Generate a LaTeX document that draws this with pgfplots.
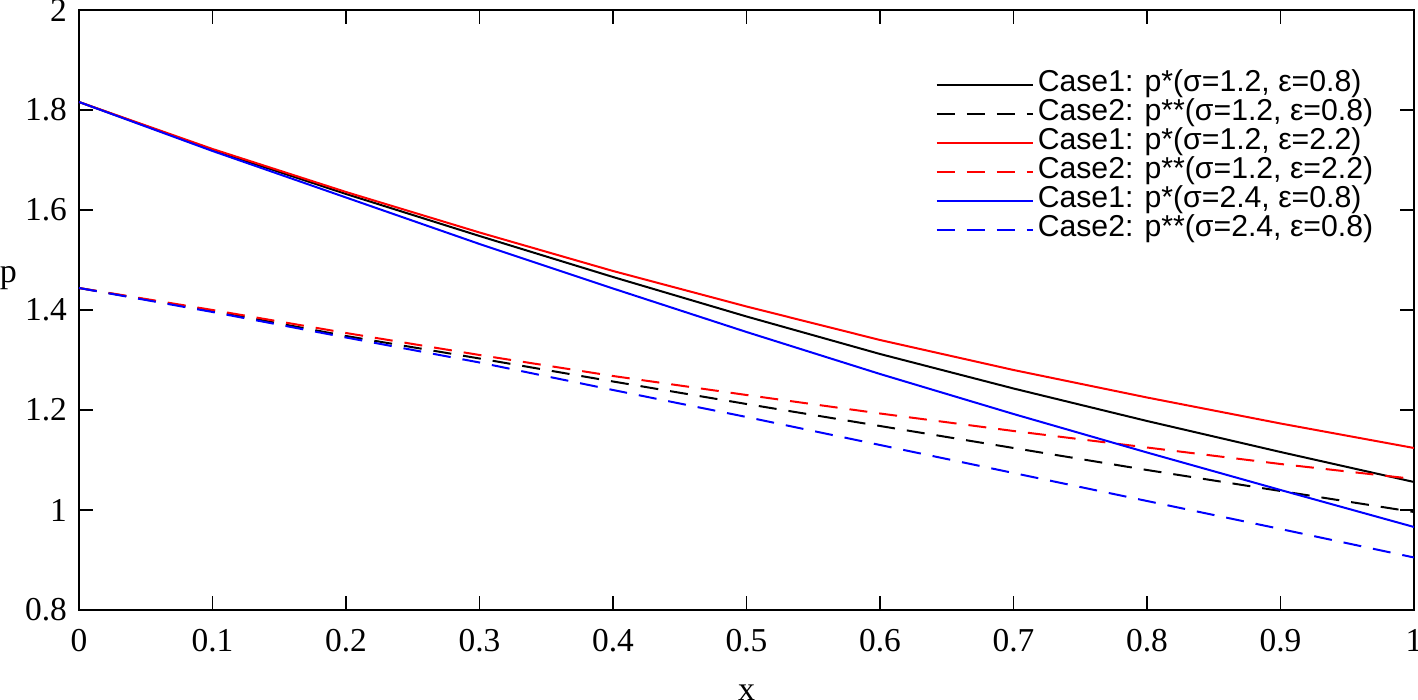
\documentclass[border=0pt]{standalone}
\usepackage{pgfplots}
\pgfplotsset{compat=1.18}
\usepackage{fontspec}
\setmainfont{Liberation Serif}
\newfontfamily\arial{Liberation Sans}
\begin{document}
\begin{tikzpicture}
\begin{axis}[
  at={(0,0)}, anchor=south west,
  scale only axis,
  width=667.5pt, height=300pt,
  xmin=0, xmax=1, ymin=0.8, ymax=2,
  xtick={0,0.1,...,1}, ytick={0.8,1,...,2},
  xticklabels={0,0.1,0.2,0.3,0.4,0.5,0.6,0.7,0.8,0.9,1},
  yticklabels={0.8,1,1.2,1.4,1.6,1.8,2},
  tick align=inside,
  major tick length=7pt,
  axis line style={line width=0.75pt},
  every tick/.style={line width=0.75pt, black},
  tick label style={font=\fontsize{16.7}{18}\selectfont},
  xticklabel style={yshift=-6pt},
  yticklabel style={xshift=-2.5pt},
  /pgf/number format/assume math mode=true,
  xlabel={x}, ylabel={p},
  label style={font=\fontsize{17}{19}\selectfont},
  xlabel style={at={(axis description cs:0.5,-0.138)}, anchor=center},
  ylabel style={rotate=-90, at={(axis description cs:-0.053,0.553)}, anchor=center},
  legend style={draw=none, fill=none, font=\arial\fontsize{15.1}{16}\selectfont,
    at={(axis description cs:0.637,0.906)}, anchor=north west, row sep=0pt,
    nodes={inner ysep=0pt, text height=10.5pt, text depth=4pt},
    legend cell align=left},
  legend image code/.code={\draw[#1] (0pt,0pt) -- (46.5pt,0pt); \path (0pt,0pt) -- (48pt,0pt);},
  every axis plot/.append style={line width=1pt},
]
\addplot[black] coordinates {(0,1.816)(0.1,1.720)(0.2,1.632)(0.3,1.548)(0.4,1.466)(0.5,1.387)(0.6,1.312)(0.7,1.243)(0.8,1.178)(0.9,1.116)(1.0,1.056)};
\addlegendentry{Case1: p*(σ=1.2, ε=0.8)}
\addplot[black, dash pattern=on 9pt off 6pt] coordinates {(0,1.444)(0.1,1.398)(0.2,1.348)(0.3,1.303)(0.4,1.257)(0.5,1.212)(0.6,1.168)(0.7,1.124)(0.8,1.080)(0.9,1.038)(1.0,0.996)};
\addlegendentry{Case2: p**(σ=1.2, ε=0.8)}
\addplot[red] coordinates {(0,1.816)(0.1,1.722)(0.2,1.636)(0.3,1.555)(0.4,1.478)(0.5,1.407)(0.6,1.340)(0.7,1.280)(0.8,1.225)(0.9,1.173)(1.0,1.124)};
\addlegendentry{Case1: p*(σ=1.2, ε=2.2)}
\addplot[red, dash pattern=on 9pt off 6pt] coordinates {(0,1.444)(0.1,1.400)(0.2,1.354)(0.3,1.310)(0.4,1.268)(0.5,1.230)(0.6,1.193)(0.7,1.158)(0.8,1.125)(0.9,1.092)(1.0,1.062)};
\addlegendentry{Case2: p**(σ=1.2, ε=2.2)}
\addplot[blue] coordinates {(0,1.816)(0.1,1.718)(0.2,1.625)(0.3,1.532)(0.4,1.443)(0.5,1.356)(0.6,1.272)(0.7,1.192)(0.8,1.115)(0.9,1.040)(1.0,0.966)};
\addlegendentry{Case1: p*(σ=2.4, ε=0.8)}
\addplot[blue, dash pattern=on 9pt off 6pt] coordinates {(0,1.444)(0.1,1.396)(0.2,1.345)(0.3,1.295)(0.4,1.240)(0.5,1.186)(0.6,1.130)(0.7,1.074)(0.8,1.018)(0.9,0.962)(1.0,0.905)};
\addlegendentry{Case2: p**(σ=2.4, ε=0.8)}
\end{axis}
\pgfresetboundingbox
\path[use as bounding box] (-39.5pt,-45pt) rectangle (669.5pt,305pt);
\end{tikzpicture}
\end{document}
